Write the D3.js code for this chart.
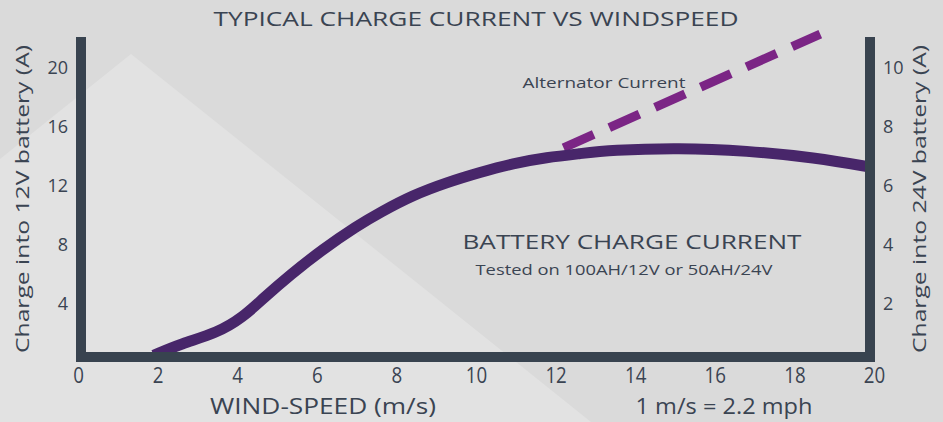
<!DOCTYPE html>
<html lang="en">
<head>
<meta charset="UTF-8">
<title>Typical charge current vs windspeed</title>
<script src="https://d3js.org/d3.v7.min.js"></script>
<style>
  body { margin: 0; background: #dadada; }
  svg text { fill: #3a4452; font-family: "Open Sans", "Noto Sans", sans-serif; }
  .axis path, .axis line { display: none; }
</style>
</head>
<body>
<svg id="chart" width="943" height="422"></svg>
<script>
// data
const windSpeed     = [1.9, 2.6, 3.5, 4.15, 4.65, 5.33, 6.16, 7.0, 7.6, 8.4, 9.27, 10.1, 10.93, 11.78, 12.6, 13.4, 15.1, 16.8, 18.5, 20.0];
const chargeCurrent = [0.45, 1.25, 1.97, 3.04, 4.3, 5.9, 7.65, 9.2, 10.14, 11.28, 12.16, 12.84, 13.45, 13.85, 14.1, 14.35, 14.5, 14.3, 13.85, 13.15];
const altWind    = [12.2, 18.65];
const altCurrent = [14.5, 22.2];
const xTicks     = [0, 2, 4, 6, 8, 10, 12, 14, 16, 18, 20];
const leftTicks  = [4, 8, 12, 16, 20];
const rightTicks = [2, 4, 6, 8, 10];

const svg = d3.select("#chart");

// background light triangle
svg.append("polygon")
    .attr("points", "0,159 131,54 591,422 0,422")
    .attr("fill", "#e2e2e2");

const x = d3.scaleLinear().domain([0, 20]).range([78, 874]);
const y = d3.scaleLinear().domain([0, 22]).range([362, 37]);
const y2 = d3.scaleLinear().domain([0, 11]).range([362, 37]);

const line = d3.line()
    .x(d => x(d[0]))
    .y(d => y(d[1]))
    .curve(d3.curveBasis);

// alternator current (dashed)
svg.append("path")
    .datum(d3.zip(altWind, altCurrent))
    .attr("d", line)
    .attr("fill", "none")
    .attr("stroke", "#7b2585")
    .attr("stroke-width", 9)
    .attr("stroke-dasharray", "33 17");

// battery charge current
svg.append("path")
    .datum(d3.zip(windSpeed, chargeCurrent))
    .attr("d", line)
    .attr("fill", "none")
    .attr("stroke", "#48266a")
    .attr("stroke-width", 11);

// frame
const lx = x(0) + 3, rx = x(20) - 4, by = y(0) - 5, ty = y(22);
svg.append("path")
    .attr("d", `M${lx},${ty}V${by}H${rx}V${ty}`)
    .attr("fill", "none")
    .attr("stroke", "#38434f")
    .attr("stroke-width", 10)
    .attr("stroke-linejoin", "miter");

// axes
const gx = svg.append("g")
    .attr("class", "axis")
    .attr("transform", "translate(0,383)")
    .call(d3.axisBottom(x).tickValues(xTicks).tickSize(0).tickPadding(0));
gx.selectAll("text")
    .attr("y", 0).attr("dy", 0)
    .attr("transform", "scale(0.85,1)")
    .style("font-size", "22px");

const gl = svg.append("g")
    .attr("class", "axis")
    .attr("transform", "translate(68,0)")
    .call(d3.axisLeft(y).tickValues(leftTicks).tickSize(0).tickPadding(0));
gl.selectAll("text").style("font-size", "18px").attr("dy", "0.36em");

const gr = svg.append("g")
    .attr("class", "axis")
    .attr("transform", "translate(883,0)")
    .call(d3.axisRight(y2).tickValues(rightTicks).tickSize(0).tickPadding(0));
gr.selectAll("text").style("font-size", "18px").attr("dy", "0.36em");

// texts
function label(txt, cx, cy, size, len, rot) {
  const t = svg.append("text")
      .attr("text-anchor", "middle")
      .style("font-size", size + "px")
      .attr("textLength", len)
      .attr("lengthAdjust", "spacingAndGlyphs")
      .text(txt);
  if (rot) t.attr("transform", `translate(${cx},${cy}) rotate(-90)`);
  else t.attr("x", cx).attr("y", cy);
  return t;
}
label("TYPICAL CHARGE CURRENT VS WINDSPEED", 476, 26, 20, 525);
label("Charge into 12V battery (A)", 29, 199, 19, 308, true);
label("Charge into 24V battery (A)", 926, 199, 19, 308, true);
label("WIND-SPEED (m/s)", 323, 414, 21, 226);
label("1 m/s = 2.2 mph", 724, 414, 21, 177);
label("BATTERY CHARGE CURRENT", 632, 249, 20, 339);
label("Tested on 100AH/12V or 50AH/24V", 624, 275, 15, 297);
label("Alternator Current", 604, 88, 15, 163);
</script>
</body>
</html>
